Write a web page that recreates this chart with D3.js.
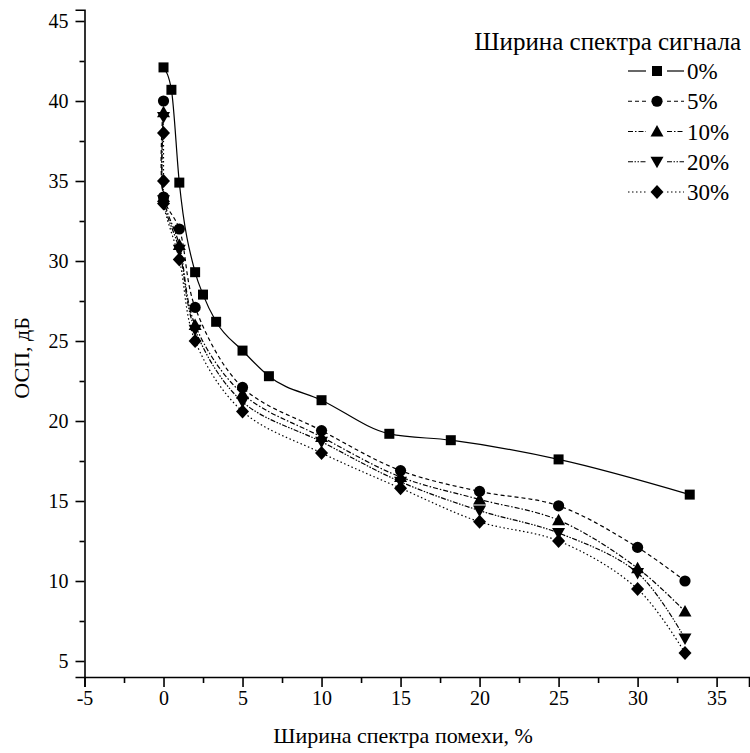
<!DOCTYPE html>
<html><head><meta charset="utf-8">
<script src="https://cdn.jsdelivr.net/npm/d3@7"></script>
<style>
html,body{margin:0;padding:0;background:#fff;}
svg text{font-family:"Liberation Serif","Times New Roman",serif;fill:#000;}
</style></head>
<body>
<svg id="chart" width="750" height="753"></svg>
<script>
// ---- data ----
const x0 = [0, 0.5, 1, 2, 2.5, 3.33, 5, 6.67, 10, 14.29, 18.18, 25, 33.3];
const s0 = [42.1, 40.7, 34.9, 29.3, 27.9, 26.2, 24.4, 22.8, 21.3, 19.2, 18.8, 17.6, 15.4];
const xN = [0, 0, 1, 2, 5, 10, 15, 20, 25, 30, 33];
const s5 = [40.0, 34.0, 32.0, 27.1, 22.1, 19.4, 16.9, 15.6, 14.7, 12.1, 10.0];
const s10 = [39.3, 34.0, 31.0, 26.0, 21.7, 19.0, 16.5, 15.1, 13.8, 10.8, 8.1];
const s20 = [39.0, 33.8, 30.7, 25.7, 21.2, 18.7, 16.2, 14.4, 13.0, 10.5, 6.4];
const x30 = [0, 0, 0, 1, 2, 5, 10, 15, 20, 25, 30, 33];
const s30 = [38.0, 35.0, 33.6, 30.1, 25.0, 20.6, 18.0, 15.8, 13.7, 12.5, 9.5, 5.5];
const seriesNames = ["0%", "5%", "10%", "20%", "30%"];
const xTicks = [-5, 0, 5, 10, 15, 20, 25, 30, 35];
const xMinor = [-2.5, 2.5, 7.5, 12.5, 17.5, 22.5, 27.5, 32.5];
const yTicks = [5, 10, 15, 20, 25, 30, 35, 40, 45];
const yMinor = [7.5, 12.5, 17.5, 22.5, 27.5, 32.5, 37.5, 42.5];
const legendTitle = "Ширина спектра сигнала";
const xTitle = "Ширина спектра помехи, %";
const yTitle = "ОСП, дБ";

// ---- setup ----
const svg = d3.select("#chart");
const x = d3.scaleLinear().domain([-5, 37.05]).range([84.5, 749]);
const y = d3.scaleLinear().domain([4, 45.7]).range([677, 9.8]);

const series = [
  {name: seriesNames[0], xs: x0, ys: s0, dash: null, marker: "square", curve: d3.curveMonotoneX},
  {name: seriesNames[1], xs: xN, ys: s5, dash: "4,3", marker: "circle", curve: d3.curveCatmullRom.alpha(0.5)},
  {name: seriesNames[2], xs: xN, ys: s10, dash: "5,2,1.5,2", marker: "triangle", curve: d3.curveCatmullRom.alpha(0.5)},
  {name: seriesNames[3], xs: xN, ys: s20, dash: "5,1.5,1.5,1.5,1.5,1.5", marker: "tridown", curve: d3.curveCatmullRom.alpha(0.5)},
  {name: seriesNames[4], xs: x30, ys: s30, dash: "1.5,2.5", marker: "diamond", curve: d3.curveCatmullRom.alpha(0.5)}
];

function markerPath(type) {
  const p = d3.path();
  if (type === "square") { p.rect(-5, -5, 10, 10); }
  else if (type === "circle") { p.arc(0, 0, 5.6, 0, 2 * Math.PI); }
  else if (type === "triangle") { p.moveTo(0, -6.5); p.lineTo(6.5, 5); p.lineTo(-6.5, 5); p.closePath(); }
  else if (type === "tridown") { p.moveTo(0, 6.5); p.lineTo(6.5, -5); p.lineTo(-6.5, -5); p.closePath(); }
  else if (type === "diamond") { p.moveTo(0, -7); p.lineTo(6.5, 0); p.lineTo(0, 7); p.lineTo(-6.5, 0); p.closePath(); }
  return p.toString();
}

// ---- axes ----
svg.append("g").attr("transform", "translate(0,677)")
  .call(d3.axisBottom(x).tickValues(xTicks).tickSize(10).tickPadding(4).tickFormat(d => String(d)));
svg.append("g").attr("transform", "translate(0,677)")
  .call(d3.axisBottom(x).tickValues(xMinor).tickSize(6).tickFormat(""))
  .call(g => g.select(".domain").remove());
svg.append("g").attr("transform", "translate(84.5,0)")
  .call(d3.axisLeft(y).tickValues(yTicks).tickSize(9).tickPadding(7).tickFormat(d => String(d)));
svg.append("g").attr("transform", "translate(84.5,0)")
  .call(d3.axisLeft(y).tickValues(yMinor).tickSize(5).tickFormat(""))
  .call(g => g.select(".domain").remove());
svg.selectAll(".domain").attr("stroke", "#000").attr("stroke-width", 1.6);
svg.selectAll(".tick line").attr("stroke", "#000").attr("stroke-width", 1.6);
svg.selectAll(".tick text").attr("font-family", "Liberation Serif").attr("font-size", 20).attr("fill", "#000");

// axis titles
svg.append("text").attr("x", 403).attr("y", 743).attr("text-anchor", "middle")
  .attr("font-size", 22).text(xTitle);
svg.append("text").attr("transform", "translate(29,358) rotate(-90)").attr("text-anchor", "middle")
  .attr("font-size", 22).text(yTitle);

// ---- lines ----
series.forEach(s => {
  const line = d3.line().curve(s.curve);
  const pts = s.xs.map((v, i) => [x(v), y(s.ys[i])]);
  svg.append("path").attr("d", line(pts)).attr("fill", "none").attr("stroke", "#000")
    .attr("stroke-width", 1.2).attr("stroke-dasharray", s.dash);
});
// ---- markers ----
series.forEach(s => {
  svg.append("g").selectAll("path").data(s.xs.map((v, i) => [v, s.ys[i]])).join("path")
    .attr("transform", d => `translate(${x(d[0])},${y(d[1])})`)
    .attr("d", markerPath(s.marker)).attr("fill", "#000");
});

// ---- legend ----
svg.append("text").attr("x", 741).attr("y", 50).attr("text-anchor", "end")
  .attr("font-size", 25).text(legendTitle);
const legY = d3.scalePoint().domain(seriesNames).range([71, 192]);
series.forEach(s => {
  const cy = legY(s.name);
  svg.append("line").attr("x1", 628).attr("x2", 646).attr("y1", cy).attr("y2", cy)
    .attr("stroke", "#000").attr("stroke-width", 1.2).attr("stroke-dasharray", s.dash);
  svg.append("line").attr("x1", 667).attr("x2", 684).attr("y1", cy).attr("y2", cy)
    .attr("stroke", "#000").attr("stroke-width", 1.2).attr("stroke-dasharray", s.dash);
  svg.append("path").attr("transform", `translate(657,${cy})`).attr("d", markerPath(s.marker)).attr("fill", "#000");
  svg.append("text").attr("x", 687).attr("y", cy + 8).attr("font-size", 23).text(s.name);
});
</script>
</body></html>
